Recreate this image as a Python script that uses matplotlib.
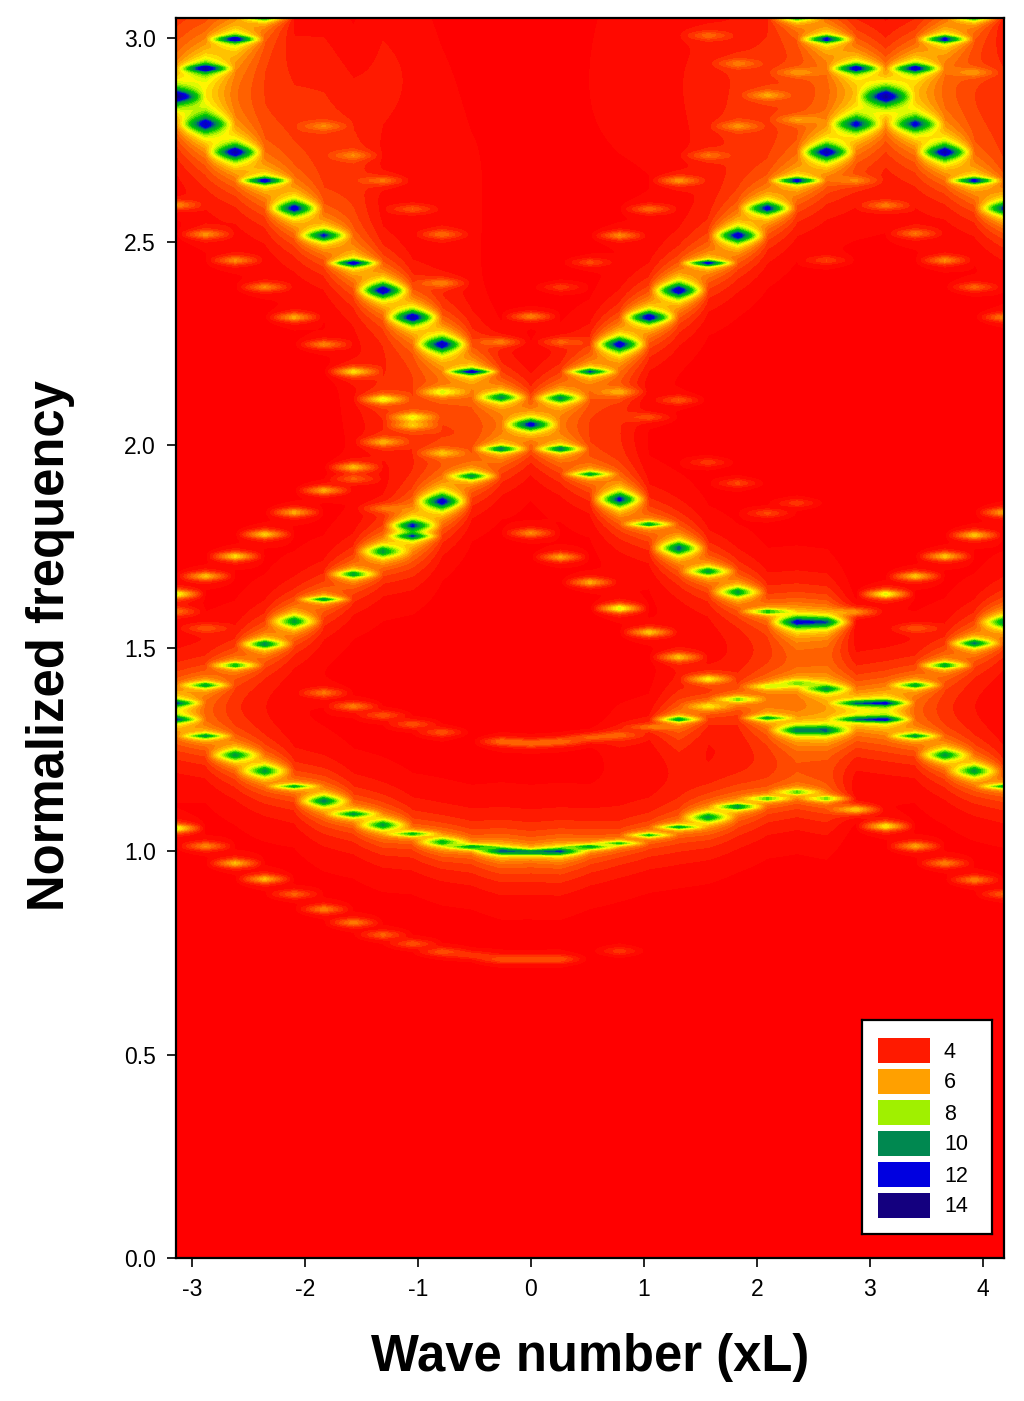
import numpy as np
import matplotlib.pyplot as plt
from matplotlib.colors import LinearSegmentedColormap
from matplotlib.patches import Rectangle

plt.rcParams['font.family'] = ['Liberation Sans', 'DejaVu Sans']
plt.rcParams['axes.unicode_minus'] = False

# k columns are multiples of pi/12, so every peak is stored with its column
upper_col = [-11, -12, -11, -10, -9, -8, -7, -6, -5, -4, -3, -2, -1, 0, 1, 2, 3, 4, 5, 6, 7, 8, 9, 10, 11, 12,
             13, 14, 15, 16, -10, -9, 10, 11, 13, 14, 9, 15]
upper_f = [2.926, 2.857, 2.789, 2.72, 2.65, 2.582, 2.515, 2.447, 2.38, 2.314, 2.247, 2.18, 2.117, 2.05, 2.115,
           2.18, 2.247, 2.314, 2.38, 2.447, 2.515, 2.582, 2.65, 2.72, 2.789, 2.857,
           2.789, 2.72, 2.65, 2.582, 2.998, 3.05, 2.998, 2.926, 2.926, 2.998, 3.05, 3.05]
upper_amp = [12, 13, 11, 12, 12, 11.5, 11, 12, 12.5, 12.5, 12, 12, 10, 12, 10,
             10.5, 12, 12.5, 12.5, 12, 12, 11.5, 12, 12, 10.5, 12.5,
             10.5, 12, 12, 11, 12, 8.5, 11.5, 11.5, 11.5, 11.5, 8.5, 8.5]
upper_w = [.007, .016, .019, .016, .006, .015, .012, .006, .016, .015, .016, .005, .01, .012, .01,
           .006, .015, .013, .016, .005, .015, .013, .005, .016, .017, .02,
           .017, .016, .005, .015, .006, .008, .006, .008, .008, .006, .008, .008]

middle_col = [-1, 1, -2, 2, -3, 3, -4, -4, 4, -5, 5, -6, 6, -7, 7, -8, 8, -9, 9, 10, -10, -11, -12, -12,
              16, 15, 14, 13, 12, 12, 11, 11, 13, 14, 15, 16, -11, -10, -9, -8]
middle_f = [1.99, 1.99, 1.923, 1.928, 1.861, 1.866, 1.802, 1.775, 1.805, 1.738, 1.746, 1.682, 1.689, 1.62, 1.638,
            1.566, 1.59, 1.51, 1.564, 1.564, 1.458, 1.409, 1.365, 1.325,
            1.564, 1.512, 1.458, 1.409, 1.365, 1.325, 1.365, 1.325, 1.284, 1.237, 1.198, 1.16,
            1.284, 1.237, 1.198, 1.16]
middle_amp = [10.5, 10.5, 10, 9.5, 12, 11.5, 10, 9, 10, 10, 11, 10, 10, 10, 10,
              10, 9.5, 10.5, 11.5, 10.5, 9.5, 9.5, 10, 10,
              10, 10.5, 10, 9.5, 10.5, 10.5, 9.5, 9.5, 9.5, 10, 10, 9.5,
              9.5, 10, 10, 9.5]
middle_w = [.006, .006, .008, .006, .017, .016, .01, .006, .005, .015, .015, .008, .01, .005, .012,
            .015, .005, .009, .013, .013, .006, .006, .006, .006,
            .016, .009, .006, .006, .005, .005, .005, .005, .006, .013, .015, .005,
            .006, .013, .015, .005]

lower_col = [-7, -6, -5, -4, -3, -2, -1, 0, 1, 2, 3, 4, 5, 6, 7, 8, 9, 10]
lower_f = [1.124, 1.092, 1.065, 1.043, 1.023, 1.011, 1.001, .998, 1.0, 1.011, 1.02, 1.04, 1.06, 1.084, 1.11, 1.13,
           1.146, 1.13]
lower_amp = [10.5, 10, 10, 9.5, 9.5, 10, 11, 11, 11, 10, 9, 9, 9.5, 10, 10.5, 9, 8.5, 8.5]
lower_w = [.013, .008, .012, .005, .01, .005, .008, .005, .008, .005, .005, .005, .005, .012, .006, .005, .006, .005]

cross_col = [10, 9, 8, 7, 6, 5, 9, 10, 8, 5, 4, 3]
cross_f = [1.40, 1.414, 1.406, 1.374, 1.357, 1.325, 1.298, 1.298, 1.328, 1.325, 1.306, 1.286]
cross_amp = [9.2, 7.5, 7, 8.5, 7, 6.8, 10, 10, 9, 6.5, 5.5, 5.2]
cross_w = [.009, .008, .006, .006, .01, .005, .01, .01, .005, .005, .005, .008]

# faint replicas, narrow with hardly any halo
ghost_col = [-12, -11, -10, -9, -8, -7, -6, -5, -4, -3, -2, -1, 0, 1, 3,
             -3, -4, -5, -6, -7, 0, -1, 1, 2,
             -11, -10, -9, -8, -7, -6, -5, -12, -12, -11, -4, -3, -6, -5,
             0, 1, 2, 3, 4, 5, 6, 12, 13, 14, 15, 16, 11, 13, 6, 7, 8, 9,
             -7, -6, -5, -4, -3, -3, -10, -11, -12, -9, -8, -7, -6, -5, -4, -3,
             0, -1, 1, 2, 1,
             6, 7, 9, 8, 7, 9, 6, 5, 4, 3, 3, 5, 4,
             12, 13, 14, 15, 16, 11, 15, 10,
             11, 12, 13, 14, 15, 16]
ghost_f = [1.057, 1.013, .971, .932, .895, .858, .825, .795, .773, .753, .745, .735, .735, .735, .755,
           1.293, 1.313, 1.335, 1.357, 1.39, 1.266, 1.27, 1.27, 1.28,
           1.677, 1.726, 1.78, 1.834, 1.888, 1.945, 2.007, 1.633, 1.59, 1.549, 2.048, 1.98, 1.916, 1.844,
           1.783, 1.724, 1.662, 1.598, 1.539, 1.478, 1.424, 1.633, 1.677, 1.726, 1.778, 1.834, 1.589, 1.549,
           1.957, 1.906, 1.832, 1.857,
           2.784, 2.712, 2.65, 2.58, 2.518, 2.398, 2.454, 2.518, 2.59, 2.388, 2.314, 2.247, 2.18, 2.112, 2.068, 2.13,
           2.316, 2.253, 2.253, 2.449, 2.388,
           3.007, 2.938, 2.916, 2.86, 2.784, 2.80, 2.712, 2.65, 2.58, 2.515, 2.13, 2.11, 2.068,
           2.589, 2.52, 2.454, 2.388, 2.314, 2.65, 2.916, 2.454,
           1.103, 1.062, 1.013, .971, .93, .895]
ghost_amp = [7.5, 5.6, 6.3, 6.3, 5, 5.5, 5.5, 5, 4.8, 4.8, 4.4, 4.8, 4.8, 4.8, 4.4,
             4.8, 4.8, 4.8, 5.4, 5.2, 5.2, 5.2, 5.2, 5,
             6.4, 6.8, 6.6, 6.1, 6.1, 6.1, 5.6, 7.5, 5, 4.5, 5.2, 5.2, 4.6, 4.6,
             5.6, 6, 6.1, 7.5, 6.5, 6.1, 6.5, 7.5, 6.5, 6.5, 6.5, 6.1, 5.6, 4.5,
             4.4, 4.6, 4.6, 4.4,
             4.6, 4.6, 4.9, 4.6, 4.9, 5, 5.5, 5.5, 5.5, 5.5, 6, 5.5, 6.5, 6.5, 6, 6,
             5.5, 5, 4.6, 4.6, 4.4,
             4.6, 4.6, 4.6, 5, 4.8, 4.6, 4.6, 5.5, 5, 5.5, 5, 4.8, 4.6,
             5, 5, 5.5, 5, 5.5, 4.6, 4.6, 4.4,
             6.5, 7, 6, 5.5, 5.5, 5]
ghost_w = [.009] * len(ghost_col)

# broad raised background per column: light orange wash behind the bands
haze_col = [-12, -11, -10, -9, -8, -7, -6, -5, -4, -3, -2, -1, 1, 2, 3, 4, 5, 6, 7, 8, 9, 10, 11, 12, 13, 14, 15, 16,
            -6, -5, -4, -3, -2, 3, 2]
haze_f = [2.95, 2.9, 2.9, 2.85, 2.8, 2.8, 2.7, 2.9, 2.9, 2.75, 2.6, 2.9, 2.9, 2.9, 2.95, 2.95, 2.9, 2.85, 2.85, 2.9,
          2.85, 2.85, 2.8, 2.8, 2.8, 2.85, 2.85, 2.85,
          2.1, 2.1, 2.1, 2.1, 2.1, 2.1, 2.1]
haze_amp = [1.0, 1.1, 1.1, 1.0, 1.0, 1.0, 1.0, 0.7, 0.6, 0.5, 0.4, 0.2, 0.2, 0.3, 0.5, 0.6, 0.6, 0.8, 1.0, 1.1,
            1.0, 0.9, 0.8, 0.7, 0.8, 0.9, 1.0, 1.0,
            0.4, 0.8, 0.9, 0.8, 0.5, 0.5, 0.5]
haze_w = [.25, .3, .3, .3, .3, .3, .3, .3, .3, .3, .3, .3, .3, .3, .3, .3, .3, .3, .3, .3,
          .25, .25, .25, .25, .25, .25, .25, .25,
          .16, .16, .16, .16, .16, .16, .16]

tick_x = [-3, -2, -1, 0, 1, 2, 3, 4]
tick_y = [0.0, 0.5, 1.0, 1.5, 2.0, 2.5, 3.0]
legend_labels = ['4', '6', '8', '10', '12', '14']
legend_colors = ['#ff1a00', '#ffa000', '#a0f000', '#008850', '#0000e0', '#14007f']

base = 3.2
all_col = np.array(upper_col + middle_col + lower_col + cross_col + ghost_col)
all_f = np.array(upper_f + middle_f + lower_f + cross_f + ghost_f)
all_amp = np.array(upper_amp + middle_amp + lower_amp + cross_amp + ghost_amp)
all_w = np.array(upper_w + middle_w + lower_w + cross_w + ghost_w)
is_ghost = np.arange(len(all_col)) >= len(all_col) - len(ghost_col)

cols = np.arange(-12, 17)
k = cols * np.pi / 12
f = np.arange(0, 3.0501, 0.004)
z = np.full((len(f), len(k)), base)
for c, f0, a, w, g in zip(all_col, all_f, all_amp, all_w, is_ghost):
    df = np.abs(f - f0)
    # replicas drop off fast, the main branches keep a long orange tail
    if g:
        shape = 1 / (1 + (df / w) ** 2.2)
    else:
        shape = 0.68 / (1 + (df / w) ** 1.8) + 0.32 * np.exp(-df / 0.075)
    z[:, c + 12] += (a - base) * shape
for c, f0, a, w in zip(haze_col, haze_f, haze_amp, haze_w):
    z[:, c + 12] += a * np.exp(-((f - f0) / w) ** 2)
z = np.minimum(z, 14.5)


def stop(v):
    return (v - 3.5) / 10.5


cmap = LinearSegmentedColormap.from_list('bands', [
    (stop(3.5), '#ff0000'), (stop(4), '#ff1a00'), (stop(6), '#ffa000'), (stop(7.3), '#ffff00'),
    (stop(8), '#a0f000'), (stop(9), '#00c800'), (stop(10.3), '#008850'), (stop(11.4), '#0000e0'),
    (stop(14), '#14007f')])
levels = np.arange(3.5, 14.01, 0.35)

fig = plt.figure(figsize=(10.24, 14.01), dpi=100)
ax = fig.add_axes([176 / 1024, 1 - 1258 / 1401, 828 / 1024, 1240 / 1401])
ax.contourf(k, f, z, levels=levels, cmap=cmap, extend='both')
ax.set_xlim(-np.pi, 16 * np.pi / 12)
ax.set_ylim(0, 3.05)
ax.set_xticks(tick_x)
ax.set_yticks(tick_y)
ax.set_yticklabels([f'{v:.1f}' for v in tick_y])
ax.tick_params(direction='out', length=6.5, width=1.2, labelsize=16.5, pad=8)
for s in ax.spines.values():
    s.set_linewidth(1.6)
ax.set_xlabel('Wave number (xL)', fontsize=36.5, fontweight='bold', labelpad=23)
ax.set_ylabel('Normalized frequency', fontsize=36.5, fontweight='bold', labelpad=35, y=0.494)

# legend box, laid out in pixels
lax = fig.add_axes([862 / 1024, 1 - 1234 / 1401, 130 / 1024, 214 / 1401])
lax.set_xlim(0, 130)
lax.set_ylim(214, 0)
lax.set_xticks([])
lax.set_yticks([])
for s in lax.spines.values():
    s.set_linewidth(1.6)
for i, (c, t) in enumerate(zip(legend_colors, legend_labels)):
    lax.add_patch(Rectangle((16, 18 + i * 31), 52, 25, facecolor=c, edgecolor='none'))
    lax.text(82, 32 + i * 31, t, fontsize=15.5, va='center', ha='left')

fig.savefig('out.png', dpi=100)
